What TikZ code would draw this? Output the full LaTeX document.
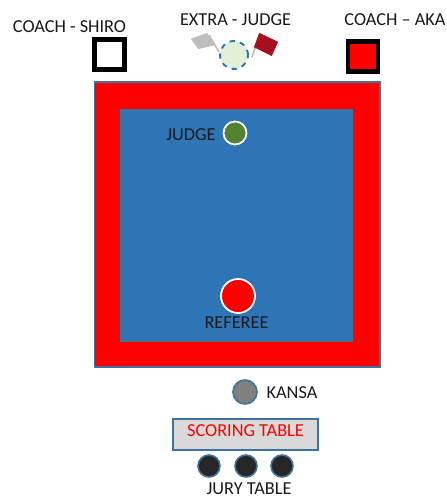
\documentclass[tikz,border=0pt]{standalone}
\usepackage{fontspec}
\setmainfont{Carlito}
\usepackage{xcolor}
\usetikzlibrary{positioning}

\definecolor{matblue}{HTML}{2E75B6}
\definecolor{edgeblue}{HTML}{41719C}
\definecolor{judgegreen}{HTML}{548235}
\definecolor{extragreen}{HTML}{E2F0D9}
\definecolor{flagred}{HTML}{A50F1E}
\definecolor{flaggrey}{HTML}{BDBDBD}
\definecolor{polegrey}{HTML}{C4B8AC}

\tikzset{
    label/.style={font=\fontsize{10.4}{12}\selectfont, text=black!90, inner sep=0pt},
    official/.style={circle, draw=edgeblue, line width=0.9pt, inner sep=0pt},
    coachbox/.style={draw=black, line width=3pt, inner sep=0pt},
    pole/.style={draw=polegrey, line width=0.9pt}
}

\begin{document}
\begin{tikzpicture}

\useasboundingbox (0,0) rectangle (8.92,9.96);

% =========================================================
% MAT
% =========================================================
\filldraw[fill=red, draw=edgeblue, line width=0.9pt] (1.89,2.62) rectangle (7.60,8.32);
\filldraw[fill=matblue, draw=edgeblue, line width=0.9pt] (2.42,3.14) rectangle (7.05,7.76);

% =========================================================
% COACHES
% =========================================================
\node[coachbox, fill=white, minimum size=0.61cm] (shiro) at (2.19,8.87) {};
\node[coachbox, fill=red, line width=2.8pt, minimum size=0.60cm] (aka) at (7.26,8.83) {};
\node[label] (shirotext) at (1.39,9.42) {COACH - SHIRO};
\node[label] (akatext) at (7.90,9.56) {COACH – AKA};

% =========================================================
% EXTRA JUDGE WITH FLAGS
% =========================================================
\draw[pole] (4.38,8.92) -- (4.18,9.26);
\draw[pole] (5.04,8.82) -- (5.20,9.30);
\filldraw[fill=flaggrey, draw=flaggrey, line join=round, line width=0.5pt] (3.83,9.18) -- (4.14,9.29) -- (4.27,9.06) -- (3.97,8.99) -- cycle;
\filldraw[fill=flagred, draw=flagred, line join=round, line width=0.5pt] (5.19,9.29) -- (5.55,9.12) -- (5.43,8.85) -- (5.09,9.02) -- cycle;
\node[official, dashed, draw=matblue, line width=1.1pt, fill=extragreen, minimum size=0.56cm] (extra) at (4.68,8.86) {};
\node[label] (extratext) at (4.71,9.56) {EXTRA - JUDGE};

% =========================================================
% JUDGE AND REFEREE
% =========================================================
\node[circle, draw=white, line width=1pt, inner sep=0pt, fill=judgegreen, minimum size=0.46cm] (judge) at (4.70,7.30) {};
\node[label] (judgetext) at (3.82,7.26) {JUDGE};
\node[circle, draw=white, line width=1pt, inner sep=0pt, fill=red, minimum size=0.68cm] (referee) at (4.76,4.04) {};
\node[label] (refereetext) at (4.73,3.50) {REFEREE};

% =========================================================
% KANSA AND TABLE
% =========================================================
\node[official, fill=black!50, minimum size=0.48cm] (kansa) at (4.90,2.12) {};
\node[label] (kansatext) at (5.84,2.10) {KANSA};

\node[draw=edgeblue, line width=0.9pt, fill=black!15, minimum width=2.9cm, minimum height=0.62cm, inner sep=0pt] (table) at (4.91,1.27) {};
\node[label, text=red] (tabletext) at (4.91,1.34) {SCORING TABLE};

\node[official, fill=black!85, minimum size=0.44cm] (jurya) at (4.18,0.64) {};
\node[official, fill=black!85, minimum size=0.44cm] (juryb) at (4.92,0.64) {};
\node[official, fill=black!85, minimum size=0.44cm] (juryc) at (5.64,0.64) {};
\node[label] (jurytext) at (4.98,0.18) {JURY TABLE};

\end{tikzpicture}
\end{document}
